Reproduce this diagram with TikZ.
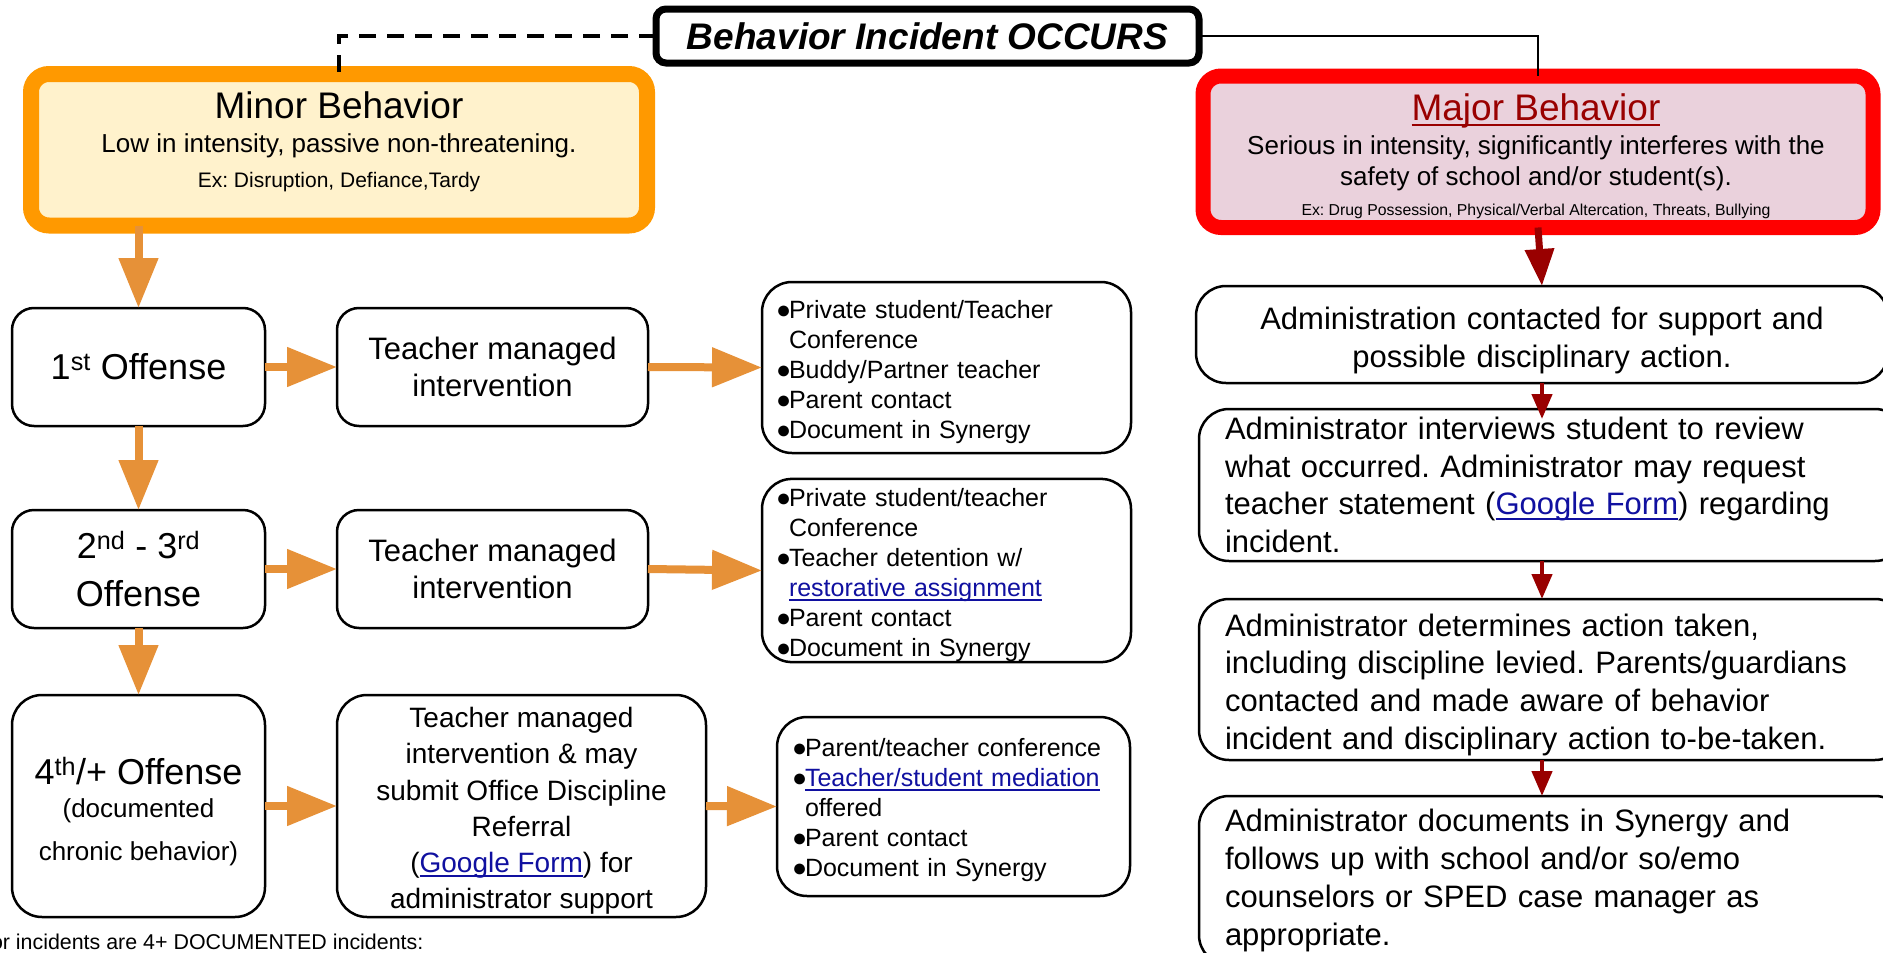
\documentclass[tikz,border=0pt]{standalone}
\usepackage{fontspec}
\setmainfont{Liberation Sans}
\usetikzlibrary{arrows.meta}
\definecolor{orangeA}{HTML}{E69138}
\definecolor{minorBorder}{HTML}{FF9900}
\definecolor{minorFill}{HTML}{FFF2CC}
\definecolor{majorBorder}{HTML}{FF0000}
\definecolor{majorFill}{HTML}{EAD1DC}
\definecolor{darkRed}{HTML}{990000}
\definecolor{linkBlue}{HTML}{1010A0}
\newcommand{\fsz}[2]{\fontsize{#1}{#2}\selectfont}
\newlength{\lnkw}
\newcommand{\ulin}[1]{\settowidth{\lnkw}{#1}\rlap{\rule[-0.17em]{\lnkw}{0.075em}}#1}
\newcommand{\lnk}[1]{\textcolor{linkBlue}{\ulin{#1}}}
\newcommand{\bul}{\makebox[13pt][l]{●}}
\newcommand{\ind}{\hspace*{13pt}}
\newcommand{\tup}[1]{\rule{0pt}{#1}}
\frenchspacing
\begin{document}
\begin{tikzpicture}[x=1pt,y=-1pt,
  every node/.style={outer sep=0pt},
  rbox/.style={draw=black, line width=2.5pt, rounded corners=#1, fill=white, inner sep=0pt, align=center},
  rbox/.default=22pt,
  oarrow/.style={draw=orangeA, fill=orangeA, line width=8pt, -{Triangle[length=50pt,width=38pt]}},
  rarrowbig/.style={draw=darkRed, fill=darkRed, line width=7pt, -{Triangle[length=37pt,width=28pt]}},
  rarrow/.style={draw=darkRed, fill=darkRed, line width=4.5pt, -{Triangle[length=25pt,width=20pt]}}]
\useasboundingbox (0,0) rectangle (1883,953);
\clip (0,0) rectangle (1883,953);

% top box
\node[rbox=10pt, line width=7pt, minimum width=543pt, minimum height=54pt, font={\fsz{37}{40}\bfseries\itshape}] (behav) at (927.5,36) {Behavior Incident OCCURS};

% minor
\node[rbox=18pt, draw=minorBorder, fill=minorFill, line width=16pt, minimum width=616pt, minimum height=151.5pt] (minor) at (339,149.75) {};
\node[anchor=base, font={\fsz{37}{40}}] (minorT) at (339,118) {Minor Behavior};
\node[anchor=base, font={\fsz{26}{30}}] (minorS) at (339,152) {Low in intensity, passive non-threatening.};
\node[anchor=base, font={\fsz{21}{24}}] (minorE) at (339,187) {Ex: Disruption, Defiance,Tardy};

% major
\node[rbox=18pt, draw=majorBorder, fill=majorFill, line width=15pt, minimum width=670pt, minimum height=151.5pt] (major) at (1538,151.75) {};
\node[anchor=base, font={\fsz{37}{40}}, text=darkRed] (majorT) at (1536,120) {\ulin{Major Behavior}};
\node[anchor=base, font={\fsz{26}{30}}] (majorS1) at (1536,154) {Serious in intensity, significantly interferes with the};
\node[anchor=base, font={\fsz{26}{30}}] (majorS2) at (1536,185) {safety of school and/or student(s).};
\node[anchor=base, font={\fsz{15.8}{18}}] (majorE) at (1536,215) {Ex: Drug Possession, Physical/Verbal Altercation, Threats, Bullying};

% offense column
\node[rbox=22pt, minimum width=253pt, minimum height=118pt, font={\fsz{36}{48}}] (o1) at (138.5,367) {1\textsuperscript{st} Offense};
\node[rbox=22pt, minimum width=253pt, minimum height=118pt, font={\fsz{36}{48}}] (o2) at (138.5,569) {2\textsuperscript{nd} - 3\textsuperscript{rd}\\Offense};
\node[rbox=30pt, minimum width=253pt, minimum height=222pt, font={\fsz{26}{43}}] (o4) at (138.5,806) {{\fsz{36}{43}\tup{38pt}4\textsuperscript{th}/+ Offense}\\[-10pt](documented\\chronic behavior)};

% teacher column
\node[rbox=22pt, minimum width=311pt, minimum height=118pt, font={\fsz{31}{37}}] (t1) at (492.5,367) {Teacher managed\\intervention};
\node[rbox=22pt, minimum width=311pt, minimum height=118pt, font={\fsz{31}{37}}] (t2) at (492.5,569) {Teacher managed\\intervention};
\node[rbox=30pt, minimum width=369pt, minimum height=222pt, font={\fsz{28}{36.2}}] (t3) at (521.5,806) {\tup{30pt}Teacher managed\\intervention \& may\\submit Office Discipline\\Referral\\(\lnk{Google Form}) for\\administrator support};

% bullet column
\node[rbox=30pt, minimum width=369pt, minimum height=171pt, text width=341pt, align=left, font={\fsz{25}{30}}] (b1) at (946.5,367.5) {\tup{28pt}\bul Private student/Teacher\\\ind Conference\\\bul Buddy/Partner teacher\\\bul Parent contact\\\bul Document in Synergy};
\node[rbox=30pt, minimum width=369pt, minimum height=177pt, text width=341pt, align=left, font={\fsz{25}{30}}] (b2) at (946.5,570.5) {\tup{28pt}\bul Private student/teacher\\\ind Conference\\\bul Teacher detention w/\\\ind \lnk{restorative assignment}\\\bul Parent contact\\\bul Document in Synergy};
\node[rbox=30pt, minimum width=353pt, minimum height=179pt, text width=323pt, align=left, font={\fsz{25}{30}}] (b3) at (953.5,806.5) {\tup{26pt}\bul Parent/teacher conference\\\bul \lnk{Teacher/student mediation}\\\ind offered\\\bul Parent contact\\\bul Document in Synergy};

% right column
\node[rbox=30pt, minimum width=692pt, minimum height=97pt, text width=640pt, align=center, font={\fsz{31}{37.7}}] (r1) at (1542,334.5) {\tup{35pt}Administration contacted for support and\\possible disciplinary action.};
\node[rbox=30pt, minimum width=706pt, minimum height=152pt, text width=654pt, align=left, font={\fsz{31}{37.7}}] (r2) at (1552,485) {Administrator interviews student to review\\what occurred. Administrator may request\\teacher statement (\lnk{Google Form}) regarding\\incident.};
\node[rbox=30pt, minimum width=706pt, minimum height=161pt, text width=654pt, align=left, font={\fsz{31}{37.7}}] (r3) at (1552,679.5) {\tup{33pt}Administrator determines action taken,\\including discipline levied. Parents/guardians\\contacted and made aware of behavior\\incident and disciplinary action to-be-taken.};
\node[rbox=30pt, minimum width=706pt, minimum height=169pt, text width=654pt, align=left, font={\fsz{31}{37.7}}] (r4) at (1552,880.5) {Administrator documents in Synergy and\\follows up with school and/or so/emo\\counselors or SPED case manager as\\appropriate.};

% note
\node[anchor=base west, inner sep=0pt, font={\fsz{21.4}{24}}] (note) at (-9,949) {or incidents are 4+ DOCUMENTED incidents:};

% connectors
\draw[line width=3.5pt, dash pattern=on 17pt off 11pt] (behav.west) -| (minor.north);
\draw[line width=2pt] (behav.east) -| (major.north);

\draw[oarrow] (minor.south -| o1.north) -- (o1.north);
\draw[oarrow] (o1.south) -- (o2.north);
\draw[oarrow] (o2.south) -- (o4.north);
\draw[oarrow] (o1.east) -- (t1.west);
\draw[oarrow] (o2.east) -- (t2.west);
\draw[oarrow] (o4.east) -- (t3.west);
\draw[oarrow] (t1.east) -- (b1.west);
\draw[oarrow] (t2.east) -- (b2.west);
\draw[oarrow] (t3.east) -- (b3.west);

\draw[rarrowbig] (major.south) -- (r1.north);
\draw[rarrow, shorten >=-10pt] (r1.south) -- (r1.south |- r2.north);
\draw[rarrow] (r2.south -| r1.south) -- (r3.north -| r1.south);
\draw[rarrow] (r3.south -| r1.south) -- (r4.north -| r1.south);
\end{tikzpicture}
\end{document}
